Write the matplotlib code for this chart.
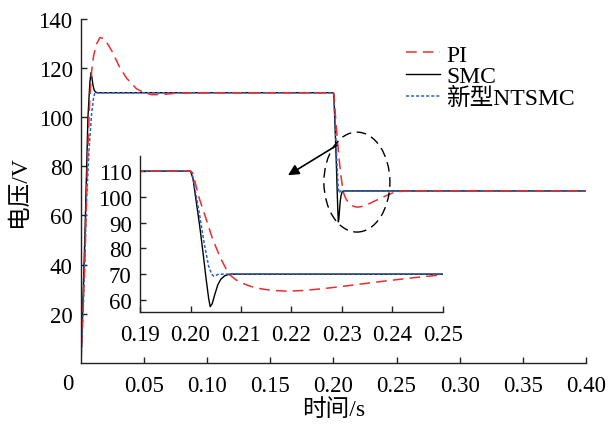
import matplotlib
matplotlib.use('Agg')
import matplotlib.pyplot as plt
from matplotlib.patches import Ellipse

plt.rcParams['font.family'] = ['Liberation Serif', 'Noto Sans CJK SC']
plt.rcParams['font.size'] = 16.5
plt.rcParams['axes.unicode_minus'] = False

# output voltage responses (time in s, voltage in V)
t_pi = [0, 0.003, 0.005, 0.007, 0.0085, 0.010, 0.012, 0.015, 0.018, 0.021, 0.025,
        0.030, 0.036, 0.044, 0.050, 0.056, 0.065, 0.075, 0.090, 0.200, 0.2005,
        0.201, 0.2018, 0.203, 0.2044, 0.206, 0.2076, 0.209, 0.2105, 0.212, 0.214,
        0.216, 0.219, 0.222, 0.226, 0.230, 0.234, 0.238, 0.242, 0.246, 0.250,
        0.260, 0.400]
v_pi = [0, 40, 80, 108, 119, 125, 129.5, 132.5, 132, 130, 126.5,
        121, 116, 111.6, 110, 109.2, 109.3, 109.8, 110, 110, 109,
        105, 99, 92, 83.5, 76, 70, 67.8, 66.3, 65.2, 64.3,
        63.7, 63.4, 63.6, 64.3, 65.2, 66.2, 67.2, 68.1, 69.0, 69.7,
        70, 70]

t_smc = [0, 0.003, 0.0055, 0.007, 0.0079, 0.0087, 0.0095, 0.0105, 0.0115, 0.013,
         0.200, 0.2005, 0.2010, 0.2018, 0.2025, 0.2031, 0.2036, 0.2039, 0.2043,
         0.2048, 0.2054, 0.2060, 0.2068, 0.2078, 0.400]
v_smc = [0, 50, 100, 114, 118.2, 116, 113, 111, 110.3, 110,
         110, 107, 100, 89, 78, 68, 60.5, 57.4, 58.5,
         62, 65.8, 68, 69.4, 70, 70]

t_nt = [0, 0.002, 0.0045, 0.0065, 0.0085, 0.0100, 0.0110, 0.200, 0.2003, 0.2008,
        0.2018, 0.2027, 0.2036, 0.2042, 0.2046, 0.2050, 0.2056, 0.400]
v_nt = [0, 25, 67, 88, 102, 108, 110, 110, 109.5, 104,
        93, 82, 73, 70, 69.2, 69.5, 70, 70]

labels = ['PI', 'SMC', '新型NTSMC']
main_xticks = [0.05, 0.10, 0.15, 0.20, 0.25, 0.30, 0.35, 0.40]
main_yticks = [20, 40, 60, 80, 100, 120, 140]
inset_xticks = [0.19, 0.20, 0.21, 0.22, 0.23, 0.24, 0.25]
inset_yticks = [60, 70, 80, 90, 100, 110]

red = '#ec2d2d'
blue = '#2a62c4'


def draw_curves(ax):
    l2, = ax.plot(t_smc, v_smc, color='k', lw=1.0, label=labels[1])
    l3, = ax.plot(t_nt, v_nt, color=blue, lw=1.1, ls=(0, (2, 1.3)), label=labels[2])
    l1, = ax.plot(t_pi, v_pi, color=red, lw=1.1, ls=(0, (7, 4)), label=labels[0])
    return [l1, l2, l3]


def style_axes(ax):
    for side in ['top', 'right']:
        ax.spines[side].set_visible(False)
    for side in ['left', 'bottom']:
        ax.spines[side].set_linewidth(1.0)
        ax.spines[side].set_color('#222222')
    ax.tick_params(direction='in', length=4, width=1.0, color='#222222', labelsize=16.5)


fig = plt.figure(figsize=(6.09, 4.27), dpi=100)
ax = fig.add_axes([0.133, 0.148, 0.829, 0.805])
lines = draw_curves(ax)
ax.set_xlim(0, 0.4)
ax.set_ylim(0, 140)
ax.set_xticks(main_xticks)
ax.set_xticklabels([f'{x:.2f}' for x in main_xticks])
ax.set_yticks(main_yticks)
ax.tick_params(axis='x', pad=9)
ax.tick_params(axis='y', pad=6)
style_axes(ax)
ax.set_xlabel('时间/s', fontsize=17, labelpad=1)
ax.set_ylabel('电压/V', fontsize=17, labelpad=6)
fig.text(68 / 609, 1 - 385 / 427, '0', ha='center', va='center', fontsize=16.5)

ax.legend(lines, labels, loc='upper left', bbox_to_anchor=(406 / 609, 1 - 45 / 427),
          bbox_transform=fig.transFigure, frameon=False, fontsize=17,
          handlelength=1.45, handletextpad=0.25, labelspacing=0.0,
          borderpad=0, borderaxespad=0)

# dashed ellipse around the load step
ax.add_patch(Ellipse((0.2186, 73.6), 0.0523, 40.7, fill=False, ec='k',
                     lw=1.0, ls=(0, (7, 4)), zorder=5))

# zoomed view of the step response
axin = fig.add_axes([0.230, 0.267, 0.497, 0.365])
axin.patch.set_alpha(0)
draw_curves(axin)
axin.set_xlim(0.19, 0.25)
axin.set_ylim(55.3, 115.8)
axin.set_xticks(inset_xticks)
axin.set_xticklabels([f'{x:.2f}' for x in inset_xticks])
axin.set_yticks(inset_yticks)
axin.tick_params(axis='x', pad=9)
axin.tick_params(axis='y', pad=6)
style_axes(axin)

axin.annotate('', xy=(0.164, 76.4), xycoords=ax.transData,
              xytext=(0.2028, 88.6), textcoords=ax.transData,
              arrowprops=dict(arrowstyle='-|>', color='k', lw=1.2,
                              mutation_scale=16, shrinkA=0, shrinkB=0),
              annotation_clip=False)

fig.savefig('out.png', dpi=100)
